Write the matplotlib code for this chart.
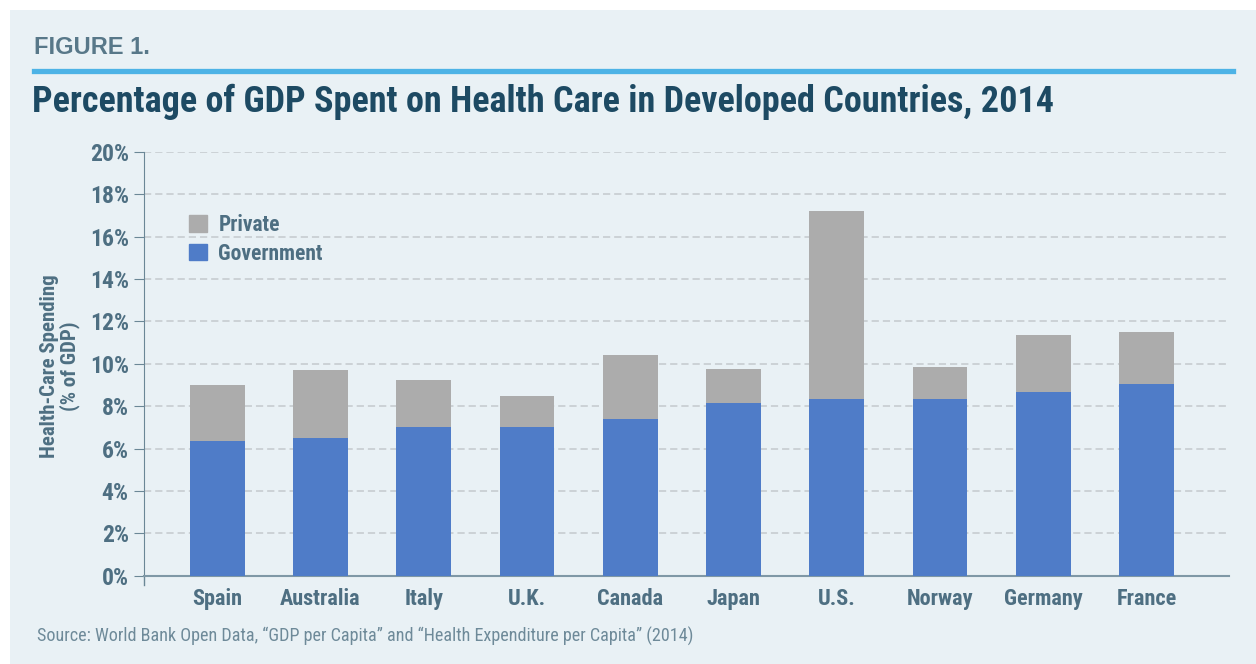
import matplotlib
matplotlib.use("Agg")
import matplotlib.pyplot as plt
from matplotlib.patches import Patch, Rectangle
from matplotlib.lines import Line2D

# data (% of GDP, 2014)
countries = ["Spain", "Australia", "Italy", "U.K.", "Canada", "Japan",
             "U.S.", "Norway", "Germany", "France"]
government = [6.35, 6.5, 7.0, 7.0, 7.4, 8.15, 8.35, 8.35, 8.67, 9.05]
total = [9.0, 9.7, 9.23, 8.48, 10.4, 9.75, 17.2, 9.85, 11.35, 11.5]
private = [t - g for t, g in zip(total, government)]
yticks = [0, 2, 4, 6, 8, 10, 12, 14, 16, 18, 20]

bg = "#e9f1f5"
blue = "#4f7cc8"
grey = "#acacac"
txt = "#4e6f82"
navy = "#1d4a63"

plt.rcParams["font.family"] = ["Roboto Condensed", "Roboto", "DejaVu Sans"]

fig = plt.figure(figsize=(12.56, 6.64), dpi=100)
fig.patch.set_facecolor("white")
# light panel behind everything
fig.patches.append(Rectangle((10 / 1256, 0), 1 - 10 / 1256, 1 - 10 / 664,
                             transform=fig.transFigure, facecolor=bg,
                             edgecolor="none", zorder=-10))

fig.text(34 / 1256, 1 - 47 / 664, "FIGURE 1.", fontsize=17, fontweight="bold",
         color="#587889", va="center",
         family=["Liberation Sans", "DejaVu Sans"])
fig.add_artist(Line2D([34 / 1256, 1233 / 1256], [1 - 71 / 664, 1 - 71 / 664],
                      color="#4db3e6", linewidth=3.8, transform=fig.transFigure))
fig.text(32 / 1256, 1 - 102 / 664,
         "Percentage of GDP Spent on Health Care in Developed Countries, 2014",
         fontsize=26, fontweight="bold", color=navy, va="center")

ax = fig.add_axes([144 / 1256, 88.3 / 664, 1085 / 1256, 424 / 664])
ax.set_facecolor(bg)

x = range(len(countries))
ax.bar(x, government, width=0.53, color=blue, label="Government", zorder=3)
ax.bar(x, private, width=0.53, bottom=government, color=grey, label="Private",
       zorder=3)

ax.set_xlim(-0.71, 9.8)
ax.set_ylim(0, 20)
ax.set_yticks(yticks)
ax.set_yticklabels([f"{v}%" for v in yticks])
ax.set_xticks(list(x))
ax.set_xticklabels(countries)

ax.grid(axis="y", linestyle=(0, (4, 2.2)), color="#c9cfd3", linewidth=1.3,
        zorder=0)
for s in ["top", "right"]:
    ax.spines[s].set_visible(False)
ax.spines["left"].set_color("#6b8796")
ax.spines["bottom"].set_color("#7f98a6")
ax.spines["bottom"].set_linewidth(1.5)
ax.plot([0, 0], [-0.022, 0], transform=ax.transAxes, color="#6b8796",
        linewidth=1, clip_on=False)

ax.tick_params(axis="y", length=7, color="#6b8796", labelsize=17,
               labelcolor=txt, pad=4)
ax.tick_params(axis="x", length=0, labelsize=16, labelcolor=txt, pad=9)
for lab in ax.get_xticklabels() + ax.get_yticklabels():
    lab.set_fontweight("bold")

fig.text(60 / 1256, 1 - 366 / 664, "Health-Care Spending\n(% of GDP)",
         rotation=90, fontsize=15, fontweight="bold", color=txt,
         ha="center", va="center", linespacing=1.0)

handles = [Patch(color=grey, label="Private"),
           Patch(color=blue, label="Government")]
ax.legend(handles=handles, loc="upper left",
          bbox_to_anchor=(26 / 1085, 1 - 43 / 424), frameon=False,
          handlelength=0.8, handleheight=0.8, handletextpad=0.55,
          labelspacing=0.3, prop={"size": 15.5, "weight": "bold"},
          labelcolor=txt)

fig.text(37 / 1256, 1 - 636 / 664,
         "Source: World Bank Open Data, \u201cGDP per Capita\u201d and "
         "\u201cHealth Expenditure per Capita\u201d (2014)",
         fontsize=13.1, color="#6e8a99", va="center")

fig.savefig("out.png", dpi=100, facecolor=fig.get_facecolor())
